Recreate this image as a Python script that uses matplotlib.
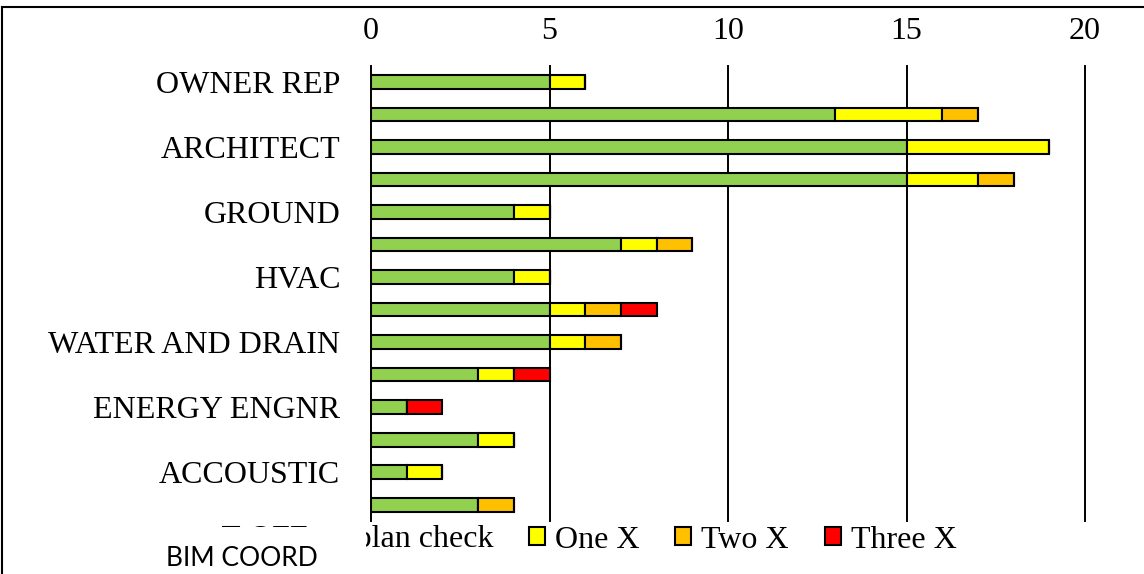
"""Stacked bar chart of plan check rounds per discipline."""

import matplotlib

matplotlib.use("Agg")
import matplotlib.pyplot as plt
from matplotlib.lines import Line2D
from matplotlib.patches import Rectangle
import numpy as np

# Bars listed top to bottom; only every other bar carries a label
categories = [
    "OWNER REP", "", "ARCHITECT", "", "GROUND", "", "HVAC", "",
    "WATER AND DRAIN", "", "ENERGY ENGNR", "", "ACCOUSTIC", "",
]
off_plan_check = [5, 13, 15, 15, 4, 7, 4, 5, 5, 3, 1, 3, 1, 3]
one_x = [1, 3, 4, 2, 1, 1, 1, 1, 1, 1, 0, 1, 1, 0]
two_x = [0, 1, 0, 1, 0, 1, 0, 1, 1, 0, 0, 0, 0, 1]
three_x = [0, 0, 0, 0, 0, 0, 0, 1, 0, 1, 1, 0, 0, 0]
series_labels = ["OFF on plan check", "One X", "Two X", "Three X"]
series_colors = ["#92D050", "#FFFF00", "#FFC000", "#FF0000"]
x_ticks = [0, 5, 10, 15, 20]
stray_label = "BIM COORD"

W, H = 1144, 574
SERIF = "Liberation Serif"
FS = 23


def fx(px):
    return px / W


def fy(py):
    return 1 - py / H


fig = plt.figure(figsize=(W / 100, H / 100), dpi=100)
ax = fig.add_axes([fx(371), fy(521), fx(1085) - fx(371), fy(65.7) - fy(521)])

# Stack the series
y = np.arange(len(categories))
left = np.zeros(len(categories))
series = [off_plan_check, one_x, two_x, three_x]
for values, label, color in zip(series, series_labels, series_colors):
    values = np.array(values, dtype=float)
    ax.barh(
        y, values, left=left, height=0.42, color=color,
        edgecolor="black", linewidth=1.5, label=label, zorder=3,
    )
    left += values

# Axes formatting
ax.set_xlim(0, 20)
ax.set_ylim(len(categories) - 0.5, -0.5)
ax.set_xticks(x_ticks)
ax.set_yticks(y)
ax.set_yticklabels(categories, fontfamily=SERIF, fontsize=FS)
ax.xaxis.tick_top()
for lbl in ax.get_xticklabels():
    lbl.set_fontfamily(SERIF)
    lbl.set_fontsize(FS)
ax.tick_params(axis="x", length=0, pad=14)
ax.tick_params(axis="y", length=0, pad=22)
ax.grid(axis="x", color="black", linewidth=1.4)
for line in ax.xaxis.get_gridlines():
    line.set_clip_on(False)
ax.set_axisbelow(True)
for spine in ax.spines.values():
    spine.set_visible(False)

# Legend along the bottom
handles, labels = ax.get_legend_handles_labels()
fig.legend(
    handles, labels, ncol=4, loc="center left",
    bbox_to_anchor=(fx(223), fy(540)), frameon=False,
    borderpad=0, borderaxespad=0, handlelength=0.5, handleheight=0.5,
    handletextpad=0.31, columnspacing=1.12,
    prop={"family": SERIF, "size": FS},
)

# White text box that sits over the first legend entry
fig.add_artist(Rectangle(
    (fx(5), 0), fx(366) - fx(5), fy(527), transform=fig.transFigure,
    facecolor="white", edgecolor="none", zorder=6,
))
fig.text(fx(166), fy(566), stray_label, fontfamily="Lato", fontsize=19,
         ha="left", va="baseline", zorder=7)

# Page frame (left and top edge only)
fig.add_artist(Line2D([fx(2), fx(2)], [0, fy(7)], color="black", lw=1.5, zorder=8))
fig.add_artist(Line2D([fx(2), 1], [fy(7), fy(7)], color="black", lw=1.5, zorder=8))

fig.savefig("out.png", dpi=100)
